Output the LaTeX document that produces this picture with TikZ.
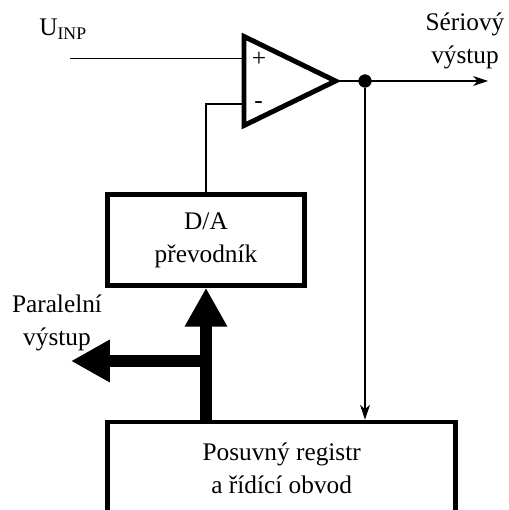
\documentclass[tikz,border=0pt]{standalone}
\usepackage{fontspec}
\setmainfont{Liberation Serif}
\usetikzlibrary{arrows.meta,calc}
\tikzset{
	block/.style={draw, line width=3.3pt, align=center, inner sep=0pt, font=\labelfont},
	label/.style={align=center, inner sep=0pt, font=\labelfont},
	wire/.style={line width=0.85pt},
	bus/.style={line width=8.9pt, -{Triangle[width=28.4pt, length=27.6pt]}},
	wirearrow/.style={wire, -{Stealth[length=10.5pt, width=7pt, inset=3pt]}}
}
\def\labelfont{\fontsize{18}{23.4}\selectfont}

\begin{document}
\begin{tikzpicture}[x=0.025cm, y=-0.025cm]
	%%%%% START %%%%%
	\useasboundingbox (0, 0) rectangle (508, 510);

	\node[block, minimum width=348*0.025cm, minimum height=92*0.025cm] (shifter) at (281.7, 468) {Posuvný registr\\a řídící obvod};
	\node[block, minimum width=196.5*0.025cm, minimum height=91*0.025cm] (dac) at (206, 240) {D/A\\převodník};

	\coordinate (amptop) at (244, 36.5);
	\coordinate (ampbot) at (244, 125.5);
	\coordinate (amptip) at (335.5, 81);
	\coordinate (inpend) at (70, 58.7);
	\coordinate (minus) at (244, 104);
	\coordinate (serend) at (488, 81);
	\coordinate (busjoin) at (206, 361);
	\coordinate (parend) at (71, 361);

	\draw[line width=3.5pt, miter limit=10] (amptop) -- (ampbot) -- (amptip) -- cycle;
	\node[label] (plus) at (259, 59.5) {+};
	\node[label] (neg) at (258.5, 105) {-};

	\draw[wire] (inpend) -- (inpend -| amptop);
	\draw[wire] (minus) -- (minus -| dac.north) -- (dac.north);

	\draw[wirearrow] (amptip) -- (serend);
	\node[draw, fill=black, circle, inner sep=0pt, minimum size=9pt] (dot) at (365, 81) {};
	\draw[wirearrow] (dot) -- (dot |- shifter.north);

	\draw[bus] (shifter.north -| dac.south) -- (dac.south);
	\draw[bus] (busjoin) -- (parend);

	\node[label, anchor=base west] (uinp) at (39, 36) {U\textsubscript{INP}};
	\node[label] (serial) at (465, 41) {Sériový\\výstup};
	\node[label] (parallel) at (57, 323) {Paralelní\\výstup};
	%%%%% END %%%%%
\end{tikzpicture}
\end{document}
